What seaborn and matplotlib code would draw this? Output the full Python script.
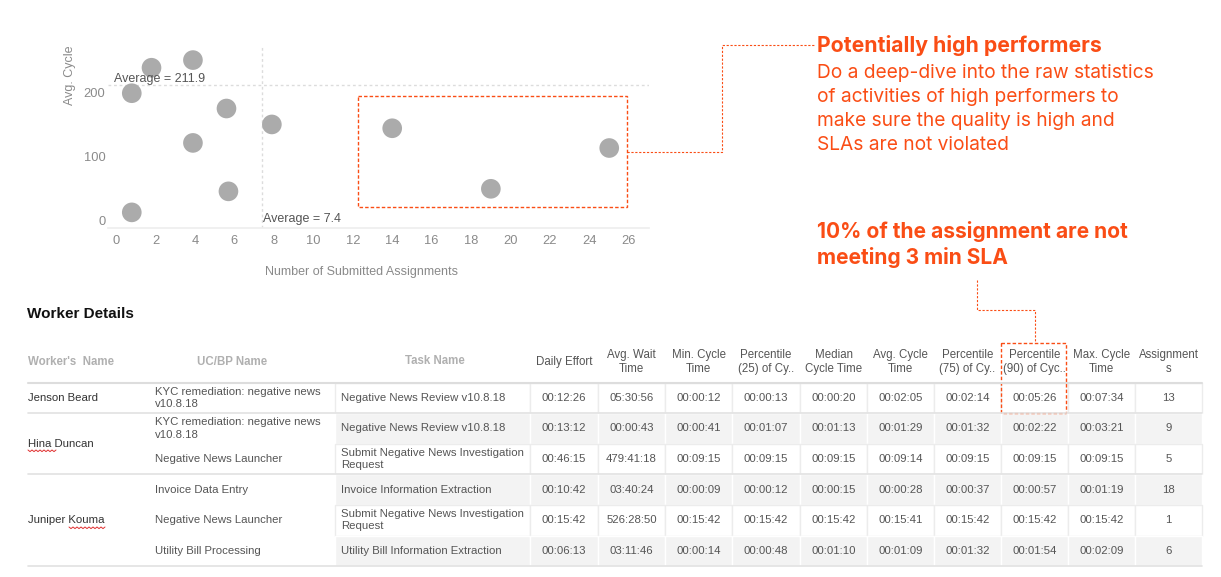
import numpy as np
import matplotlib.pyplot as plt
import seaborn as sns
from matplotlib.patches import Rectangle

# Scatter data (one point per worker / task)
submitted = [0.8, 0.8, 1.8, 3.9, 3.9, 5.6, 5.7, 7.9, 14, 19, 25]
avg_cycle = [12, 199, 239, 251, 121, 175, 45, 150, 144, 49, 113]
avg_submitted = 7.4
avg_cycle_mean = 211.9

# Table data
workers = ["Jenson Beard", "Hina Duncan", "Juniper Kouma"]
worker_rows = [1, 2, 3]
uc_bp = ["KYC remediation: negative news\nv10.8.18",
         "KYC remediation: negative news\nv10.8.18",
         "Negative News Launcher",
         "Invoice Data Entry",
         "Negative News Launcher",
         "Utility Bill Processing"]
tasks = ["Negative News Review v10.8.18",
         "Negative News Review v10.8.18",
         "Submit Negative News Investigation\nRequest",
         "Invoice Information Extraction",
         "Submit Negative News Investigation\nRequest",
         "Utility Bill Information Extraction"]
daily_effort = ["00:12:26", "00:13:12", "00:46:15", "00:10:42", "00:15:42", "00:06:13"]
avg_wait = ["05:30:56", "00:00:43", "479:41:18", "03:40:24", "526:28:50", "03:11:46"]
min_cycle = ["00:00:12", "00:00:41", "00:09:15", "00:00:09", "00:15:42", "00:00:14"]
p25_cycle = ["00:00:13", "00:01:07", "00:09:15", "00:00:12", "00:15:42", "00:00:48"]
median_cycle = ["00:00:20", "00:01:13", "00:09:15", "00:00:15", "00:15:42", "00:01:10"]
avg_cycle_time = ["00:02:05", "00:01:29", "00:09:14", "00:00:28", "00:15:41", "00:01:09"]
p75_cycle = ["00:02:14", "00:01:32", "00:09:15", "00:00:37", "00:15:42", "00:01:32"]
p90_cycle = ["00:05:26", "00:02:22", "00:09:15", "00:00:57", "00:15:42", "00:01:54"]
max_cycle = ["00:07:34", "00:03:21", "00:09:15", "00:01:19", "00:15:42", "00:02:09"]
assignments = [13, 9, 5, 18, 1, 6]

num_headers = ["Daily Effort", "Avg. Wait\nTime", "Min. Cycle\nTime",
               "Percentile\n(25) of Cy..", "Median\nCycle Time", "Avg. Cycle\nTime",
               "Percentile\n(75) of Cy..", "Percentile\n(90) of Cyc..",
               "Max. Cycle\nTime", "Assignment\ns"]
num_cols = [daily_effort, avg_wait, min_cycle, p25_cycle, median_cycle,
            avg_cycle_time, p75_cycle, p90_cycle, max_cycle, assignments]

ORANGE = "#FA4D15"
NOTE_FONT = ["Inter", "DejaVu Sans"]
W, H = 1221, 577

sns.set_theme(style="white")
plt.rcParams["font.family"] = ["Liberation Sans", "DejaVu Sans"]

fig = plt.figure(figsize=(W / 100, H / 100), dpi=100)

# ---- scatter ----
ax = fig.add_axes([108.1 / W, 1 - 228.3 / H, 540.6 / W, 181.6 / H])
sns.scatterplot(x=submitted, y=avg_cycle, s=200, color="#ababab",
                edgecolor="none", ax=ax, zorder=3, clip_on=False)
ax.set_xlim(-0.4, 27)
ax.set_ylim(-13, 272)
ax.set_xticks(range(0, 27, 2))
ax.set_yticks([0, 100, 200])
ax.tick_params(length=0, labelsize=9.3, labelcolor="#8a8a8a")
ax.tick_params(axis="x", pad=5)
ax.tick_params(axis="y", pad=2)
for s in ["top", "right", "left"]:
    ax.spines[s].set_visible(False)
ax.spines["bottom"].set_color("#eeeeee")
ax.axhline(avg_cycle_mean, color="#dcdcdc", lw=1, ls=(0, (2, 2)), zorder=1)
ax.axvline(avg_submitted, color="#dcdcdc", lw=1, ls=(0, (2, 2)), zorder=1)
ax.text(-0.1, avg_cycle_mean + 9, f"Average = {avg_cycle_mean}", fontsize=9,
        color="#555555", va="center", ha="left")
ax.text(avg_submitted + 0.05, 1, f"Average = {avg_submitted}", fontsize=9,
        color="#555555", va="center", ha="left")
ax.set_xlabel("Number of Submitted Assignments", fontsize=9, color="#8a8a8a")
ax.xaxis.set_label_coords(0.468, -0.21)
ax.set_ylabel("Avg. Cycle", fontsize=9, color="#8a8a8a")
ax.yaxis.set_label_coords(-0.06, 0.845)

# Overlay axes in pixel coordinates for table & annotations (on top)
ov = fig.add_axes([0, 0, 1, 1])
ov.set_xlim(0, W)
ov.set_ylim(H, 0)
ov.axis("off")
ov.set_zorder(5)

# highlight box + connector
ov.add_patch(Rectangle((358, 96), 269, 111, fill=False, ec=ORANGE, lw=1,
                       ls=(0, (2.5, 1.5))))
ov.plot([627, 722, 722, 815], [152, 152, 45, 45], color=ORANGE, lw=0.8,
        ls=(0, (2, 1.5)))

ov.text(817, 45, "Potentially high performers", fontsize=15.3, fontweight="bold",
        color=ORANGE, family=NOTE_FONT, va="center", ha="left")
body = ["Do a deep-dive into the raw statistics",
        "of activities of high performers to",
        "make sure the quality is high and",
        "SLAs are not violated"]
for i, line in enumerate(body):
    ov.text(817, 73 + i * 24, line, fontsize=13.8, color=ORANGE,
            family=NOTE_FONT, va="center", ha="left")

ov.text(817, 231, "10% of the assignment are not", fontsize=15.1, fontweight="bold",
        color=ORANGE, family=NOTE_FONT, va="center", ha="left")
ov.text(817, 258, "meeting 3 min SLA", fontsize=15.1, fontweight="bold",
        color=ORANGE, family=NOTE_FONT, va="center", ha="left")

# ---- table ----
ov.text(27, 314, "Worker Details", fontsize=11, fontweight="bold", color="#111111",
        va="center", ha="left")

col_edges = [530, 598, 665, 732, 800, 867, 934, 1001, 1068, 1135, 1202]
task_left = 335
row_top = 382.5
row_h = 30.6
header_y = 362
n_rows = len(tasks)

# header
ov.text(28, header_y, "Worker's  Name", fontsize=8.3, fontweight="bold",
        color="#b0b0b0", va="center", ha="left")
ov.text(232, header_y, "UC/BP Name", fontsize=8.3, fontweight="bold",
        color="#b0b0b0", va="center", ha="center")
ov.text(435, header_y - 1, "Task Name", fontsize=8.3, fontweight="bold",
        color="#b0b0b0", va="center", ha="center")
for j, hdr in enumerate(num_headers):
    cx = (col_edges[j] + col_edges[j + 1]) / 2
    ov.text(cx, header_y, hdr, fontsize=8.3, color="#555555", va="center",
            ha="center", linespacing=1.25)

# cells
for i in range(n_rows):
    y0 = row_top + i * row_h
    yc = y0 + row_h / 2
    shaded = i % 2 == 1
    face = "#f3f3f3" if shaded else "white"
    edge = "white" if shaded else "#ececec"
    ov.add_patch(Rectangle((task_left, y0), col_edges[0] - task_left, row_h,
                           fc=face, ec=edge, lw=1))
    for j in range(len(num_cols)):
        ov.add_patch(Rectangle((col_edges[j], y0), col_edges[j + 1] - col_edges[j],
                               row_h, fc=face, ec=edge, lw=1))
        ov.text((col_edges[j] + col_edges[j + 1]) / 2, yc, str(num_cols[j][i]),
                fontsize=8.2, color="#555555", va="center", ha="center")
    ov.text(155, yc, uc_bp[i], fontsize=8.2, color="#555555", va="center",
            ha="left", linespacing=1.3)
    ov.text(341, yc, tasks[i], fontsize=8.2, color="#555555", va="center",
            ha="left", linespacing=1.3)

# worker names span their rows
start = 0
for name, span in zip(workers, worker_rows):
    yc = row_top + (start + span / 2) * row_h
    ov.text(28, yc, name, fontsize=8.2, color="#333333", va="center", ha="left")
    start += span
    ov.plot([28, 1202], [row_top + start * row_h] * 2, color="#e2e2e2", lw=1.2)
ov.plot([28, 1202], [row_top, row_top], color="#dddddd", lw=1.5)

# spell-check squiggles under "Hina" and "Kouma"
for x0, x1, yy in [(28, 56, 450), (69, 106, 527)]:
    xs = np.arange(x0, x1 + 1, 2)
    ov.plot(xs, yy + np.where(np.arange(len(xs)) % 2 == 0, 0, 1.6),
            color="#e03030", lw=0.7)

# P90 highlight + connector
ov.add_patch(Rectangle((1001, 343), 65, 70, fill=False, ec=ORANGE, lw=1,
                       ls=(0, (2.5, 1.5))))
ov.plot([977, 977, 1035, 1035], [280, 310, 310, 343], color=ORANGE, lw=0.8,
        ls=(0, (2, 1.5)))

fig.savefig("out.png", dpi=100)
